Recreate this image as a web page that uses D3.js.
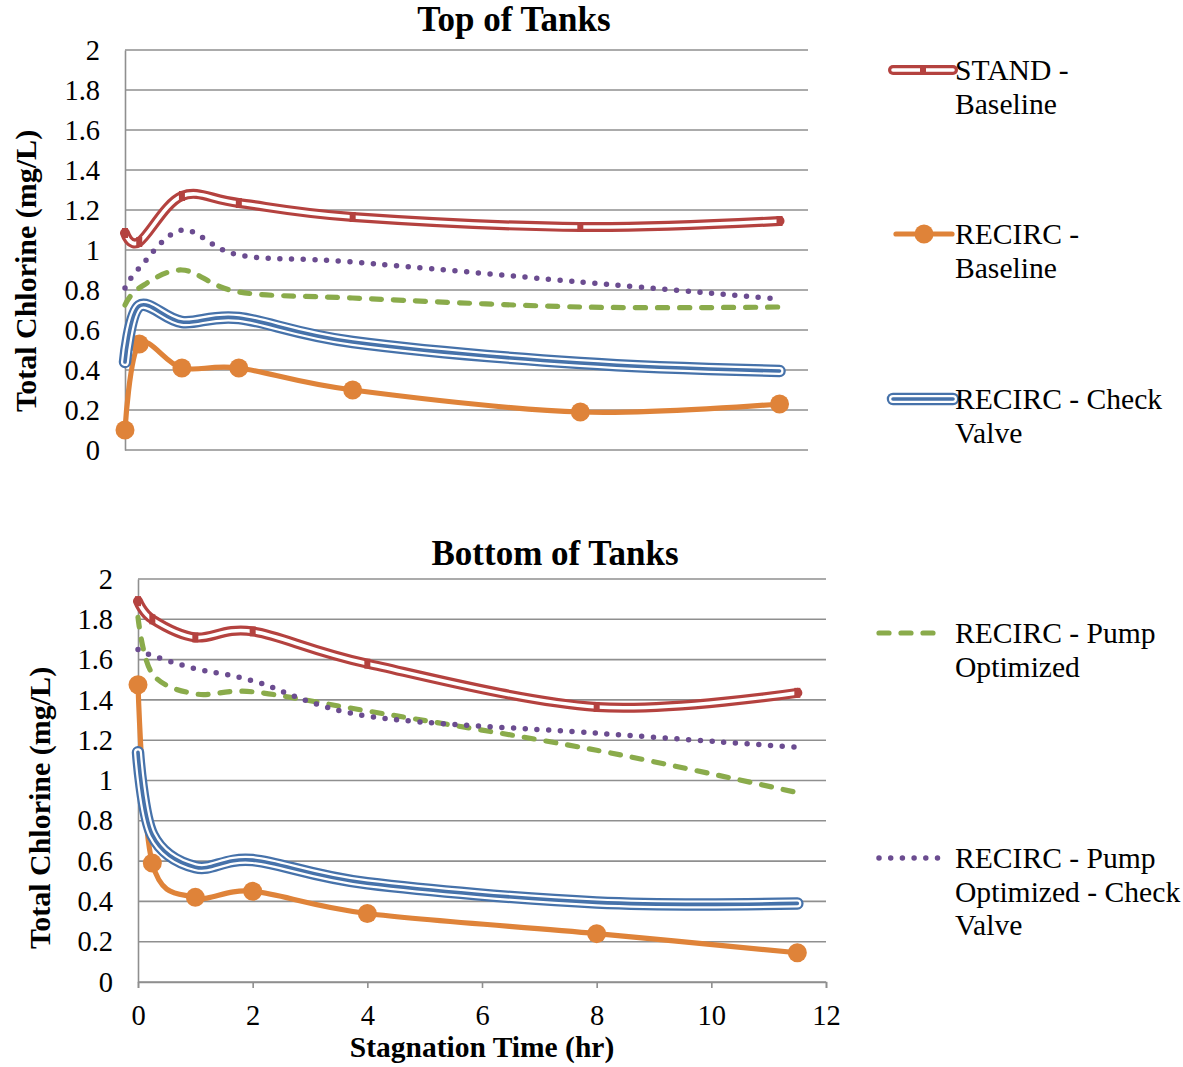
<!DOCTYPE html>
<html>
<head>
<meta charset="utf-8">
<script src="https://cdn.jsdelivr.net/npm/d3@7"></script>
<style>
  body { margin: 0; background: #fff; }
  svg { display: block; }
  text { font-family: "Liberation Serif", Tinos, "Times New Roman", "DejaVu Serif", serif; fill: #000; }
</style>
</head>
<body>
<svg id="chart" width="1183" height="1067"></svg>
<script>
// Sampling times (hours of stagnation)
const hours = [0, 0.25, 1, 2, 4, 8, 11.5];

const seriesNames = [
  "STAND - Baseline",
  "RECIRC - Baseline",
  "RECIRC - Check Valve",
  "RECIRC - Pump Optimized",
  "RECIRC - Pump Optimized - Check Valve"
];

// Total chlorine (mg/L), top of tanks
const topStand    = [1.085, 1.04, 1.27, 1.235, 1.165, 1.115, 1.145];
const topRecirc   = [0.10, 0.53, 0.41, 0.41, 0.30, 0.19, 0.23];
const topCheck    = [0.44, 0.72, 0.64, 0.66, 0.54, 0.435, 0.395];
const topPump     = [0.725, 0.81, 0.90, 0.79, 0.76, 0.715, 0.715];
const topPumpChk  = [0.81, 0.91, 1.10, 0.975, 0.94, 0.84, 0.755];

// Total chlorine (mg/L), bottom of tanks
const botStand    = [1.89, 1.80, 1.71, 1.74, 1.58, 1.365, 1.435];
const botRecirc   = [1.475, 0.59, 0.42, 0.45, 0.34, 0.24, 0.145];
const botCheck    = [1.14, 0.73, 0.57, 0.605, 0.49, 0.395, 0.39];
const botPump     = [1.81, 1.53, 1.43, 1.44, 1.345, 1.15, 0.94];
const botPumpChk  = [1.65, 1.62, 1.555, 1.495, 1.32, 1.235, 1.165];

const yTicks = [0, 0.2, 0.4, 0.6, 0.8, 1, 1.2, 1.4, 1.6, 1.8, 2];
const xTicks = [0, 2, 4, 6, 8, 10, 12];

const FONT = '"Liberation Serif", Tinos, "Times New Roman", "DejaVu Serif", serif';
const svg = d3.select("#chart");
const GRID = "#8f8f8f";
const RED = "#b4423f", ORANGE = "#df8339", BLUE = "#4672aa", GREEN = "#8aab4b", PURPLE = "#6b4c90";
const smooth = d3.curveCatmullRom.alpha(0);

// Stroke recipes per series: each layer is drawn on top of the previous one
const styles = [
  { layers: [{ c: RED, w: 10 }, { c: "#fff", w: 3.6 }], marker: "bar" },
  { layers: [{ c: ORANGE, w: 5.2 }], marker: "dot" },
  { layers: [{ c: BLUE, w: 12.5 }, { c: "#fff", w: 8 }, { c: BLUE, w: 3.6 }] },
  { layers: [{ c: GREEN, w: 5.2, dash: "10 12" }] },
  { layers: [{ c: PURPLE, w: 5.5, dash: "0 11.7" }] }
];

function drawStroke(g, d, style) {
  style.layers.forEach(l => {
    g.append("path")
      .attr("d", d)
      .attr("fill", "none")
      .attr("stroke", l.c)
      .attr("stroke-width", l.w)
      .attr("stroke-linecap", "round")
      .attr("stroke-linejoin", "round")
      .attr("stroke-dasharray", l.dash || null);
  });
}

function drawMarkers(g, pts, style) {
  if (style.marker === "bar") {
    g.selectAll(null).data(pts).join("rect")
      .attr("x", p => p[0] - 3).attr("y", p => p[1] - 5)
      .attr("width", 6).attr("height", 10)
      .attr("fill", RED);
  } else if (style.marker === "dot") {
    g.selectAll(null).data(pts).join("circle")
      .attr("cx", p => p[0]).attr("cy", p => p[1])
      .attr("r", 9.5).attr("fill", ORANGE);
  }
}

function panel(cfg) {
  const x = d3.scaleLinear().domain([0, 12]).range(cfg.xr);
  const y = d3.scaleLinear().domain([0, 2]).range(cfg.yr);
  const g = svg.append("g");

  // horizontal gridlines
  g.append("g").selectAll("line").data(yTicks).join("line")
    .attr("x1", x(0)).attr("x2", x(12))
    .attr("y1", d => y(d)).attr("y2", d => y(d))
    .attr("stroke", GRID).attr("stroke-width", 1.6);

  // value axis
  const yAxis = g.append("g")
    .attr("transform", `translate(${x(0)},0)`)
    .call(d3.axisLeft(y).tickValues(yTicks).tickSize(0).tickPadding(25).tickFormat(d3.format("~g")));
  yAxis.attr("font-family", FONT);
  yAxis.select(".domain").attr("stroke", GRID).attr("stroke-width", 1.6);
  yAxis.selectAll("text").attr("font-size", 28.5).attr("fill", "#000");

  if (cfg.xAxis) {
    const xAxis = g.append("g")
      .attr("transform", `translate(0,${y(0)})`)
      .call(d3.axisBottom(x).tickValues(xTicks).tickSize(6).tickPadding(17).tickFormat(d3.format("d")));
    xAxis.attr("font-family", FONT);
    xAxis.select(".domain").attr("stroke", GRID).attr("stroke-width", 1.6);
    xAxis.selectAll(".tick line").attr("stroke", GRID).attr("stroke-width", 1.6);
    xAxis.selectAll("text").attr("font-size", 28.5).attr("fill", "#000");
    g.append("text")
      .attr("x", cfg.xTitle[0]).attr("y", cfg.xTitle[1])
      .attr("text-anchor", "middle").attr("font-size", 29.5).attr("font-weight", "bold")
      .text("Stagnation Time (hr)");
  }

  // chart title
  g.append("text")
    .attr("x", cfg.title[0]).attr("y", cfg.title[1])
    .attr("text-anchor", "middle").attr("font-size", 35).attr("font-weight", "bold")
    .text(cfg.titleText);

  // value axis title
  g.append("text")
    .attr("transform", `translate(${cfg.yTitle[0]},${cfg.yTitle[1]}) rotate(-90)`)
    .attr("text-anchor", "middle").attr("font-size", 30).attr("font-weight", "bold")
    .text("Total Chlorine (mg/L)");

  const line = d3.line().x(d => x(d[0])).y(d => y(d[1])).curve(smooth);
  cfg.series.forEach((vals, i) => {
    const pts = hours.map((h, k) => [h, vals[k]]);
    const sg = g.append("g");
    drawStroke(sg, line(pts), styles[i]);
    drawMarkers(sg, pts.map(p => [x(p[0]), y(p[1])]), styles[i]);
  });
}

panel({
  xr: [125, 808], yr: [450, 50],
  title: [514, 31], titleText: "Top of Tanks",
  yTitle: [36, 271],
  xAxis: false,
  series: [topStand, topRecirc, topCheck, topPump, topPumpChk]
});

panel({
  xr: [138, 826], yr: [982, 579],
  title: [555, 565], titleText: "Bottom of Tanks",
  yTitle: [50, 808],
  xAxis: true, xTitle: [482, 1057],
  series: [botStand, botRecirc, botCheck, botPump, botPumpChk]
});

// Legend
const legendItems = [
  { i: 0, y: 70,  x1: 893, x2: 953, lines: ["STAND -", "Baseline"] },
  { i: 1, y: 234, x1: 896, x2: 952, lines: ["RECIRC -", "Baseline"] },
  { i: 2, y: 399, x1: 893, x2: 953, lines: ["RECIRC - Check", "Valve"] },
  { i: 3, y: 633, x1: 879, x2: 938, lines: ["RECIRC - Pump", "Optimized"] },
  { i: 4, y: 858, x1: 879, x2: 940, lines: ["RECIRC - Pump", "Optimized - Check", "Valve"] }
];
const lg = svg.append("g");
legendItems.forEach(item => {
  const st = styles[item.i];
  const d = d3.line()([[item.x1, item.y], [item.x2, item.y]]);
  const ig = lg.append("g");
  drawStroke(ig, d, st);
  drawMarkers(ig, [[(item.x1 + item.x2) / 2, item.y]], st);
  const t = ig.append("text")
    .attr("x", 955).attr("y", item.y + 10)
    .attr("font-size", 29.6);
  item.lines.forEach((s, k) => {
    t.append("tspan").attr("x", 955).attr("dy", k === 0 ? 0 : 33.5).text(s);
  });
});
</script>
</body>
</html>
